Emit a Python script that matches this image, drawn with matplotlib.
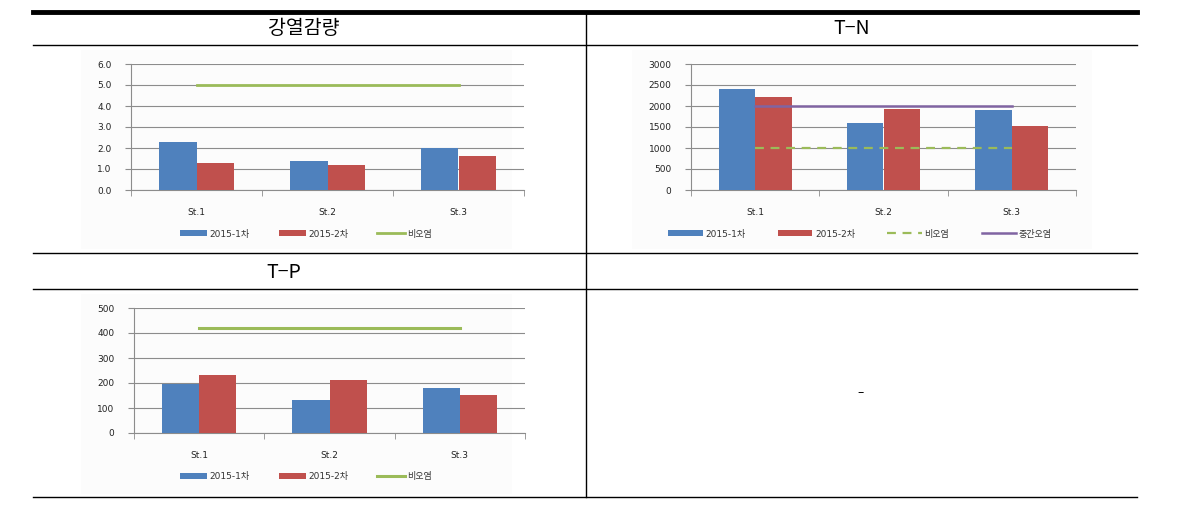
import matplotlib
matplotlib.use("Agg")
import matplotlib.pyplot as plt
from matplotlib.lines import Line2D
from matplotlib.patches import Rectangle
import numpy as np

plt.rcParams['font.family'] = ['DejaVu Sans', 'Noto Sans CJK KR']

W, H = 1197, 508

stations = ["St.1", "St.2", "St.3"]
series_names = ["2015-1차", "2015-2차"]

# 강열감량
loi_1 = [2.3, 1.4, 2.0]
loi_2 = [1.3, 1.2, 1.6]
loi_clean = 5.0

# T-N
tn_1 = [2415, 1605, 1900]
tn_2 = [2215, 1940, 1515]
tn_clean = 1000
tn_mid = 2000

# T-P
tp_1 = [197, 134, 182]
tp_2 = [234, 213, 154]
tp_clean = 420

BLUE = "#4F81BD"
RED = "#C0504D"
GREEN = "#9BBB59"
PURPLE = "#8064A2"
GRID = "#8c8c8c"
KR = ['Noto Sans CJK KR', 'DejaVu Sans']


def fx(x):
    return x / W


def fy(y):
    return 1 - y / H


def px_axes(left, top, right, bottom):
    return fig.add_axes([fx(left), fy(bottom), (right - left) / W, (bottom - top) / H])


def hline(y, x0, x1, lw=1.0):
    fig.add_artist(Line2D([fx(x0), fx(x1)], [fy(y), fy(y)], color="black", lw=lw))


def vline(x, y0, y1, lw=1.0):
    fig.add_artist(Line2D([fx(x), fx(x)], [fy(y0), fy(y1)], color="black", lw=lw))


def chart_bg(left, top, right, bottom):
    fig.add_artist(Rectangle((fx(left), fy(bottom)), (right - left) / W, (bottom - top) / H,
                             facecolor="#fcfcfc", edgecolor="none", zorder=0))


def bar_chart(ax, v1, v2, lines, ymax, step, fmt):
    x = np.arange(len(stations))
    w = 0.285
    ax.bar(x - w / 2, v1, w, color=BLUE, label=series_names[0], zorder=3)
    ax.bar(x + w / 2, v2, w, color=RED, label=series_names[1], zorder=3)
    for val, color, style, lw, name in lines:
        ax.plot([x[0], x[-1]], [val, val], color=color, ls=style, lw=lw, label=name, zorder=4)
    ax.set_xlim(-0.5, len(stations) - 0.5)
    ax.set_ylim(0, ymax)
    ticks = np.arange(0, ymax + step / 2, step)
    ax.set_yticks(ticks)
    ax.set_yticklabels([fmt.format(v) for v in ticks])
    ax.set_xticks(x)
    ax.set_xticklabels(stations)
    ax.set_xticks(np.arange(-0.5, len(stations)), minor=True)
    ax.tick_params(axis="x", which="major", length=0, pad=13, labelsize=6.5, labelcolor="#222222")
    ax.tick_params(axis="x", which="minor", length=4, color=GRID, direction="out")
    ax.tick_params(axis="y", length=4, color=GRID, direction="out", pad=10, labelsize=6.5,
                   labelcolor="#222222")
    ax.grid(axis="y", color=GRID, lw=0.8, zorder=0)
    ax.set_axisbelow(True)
    for s in ["top", "right"]:
        ax.spines[s].set_visible(False)
    for s in ["left", "bottom"]:
        ax.spines[s].set_color(GRID)
        ax.spines[s].set_linewidth(0.8)
    ax.set_facecolor("none")


def legend(ax, cx, cy, hl=3.0, cs=3.2):
    h, l = ax.get_legend_handles_labels()
    order = [l.index(n) for n in series_names] + [i for i, n in enumerate(l) if n not in series_names]
    fig.legend([h[i] for i in order], [l[i] for i in order], loc="center",
               bbox_to_anchor=(fx(cx), fy(cy)), ncol=len(h),
               frameon=False, fontsize=6.5, handlelength=hl, handleheight=0.6,
               handletextpad=0.3, columnspacing=cs, labelcolor="#333333")


fig = plt.figure(figsize=(W / 100, H / 100), dpi=100)

# table frame
hline(12, 33, 1137, lw=3.5)
hline(45, 33, 1137)
hline(253, 33, 1137)
hline(289, 33, 1137)
hline(497, 33, 1137)
vline(586, 12, 497)

fig.text(fx(304), fy(29), "강열감량", ha="center", va="center", fontsize=14, family=KR)
fig.text(fx(852), fy(29), "T\u2212N", ha="center", va="center", fontsize=14, family=KR)
fig.text(fx(284), fy(272), "T\u2212P", ha="center", va="center", fontsize=14, family=KR)
fig.text(fx(861), fy(393), "\u2013", ha="center", va="center", fontsize=9)

chart_bg(81, 50, 512, 249)
chart_bg(632, 50, 1092, 249)
chart_bg(81, 294, 512, 494)

ax1 = px_axes(131, 64, 524, 190)
bar_chart(ax1, loi_1, loi_2, [(loi_clean, GREEN, "-", 2.0, "비오염")], 6.0, 1.0, "{:.1f}")
legend(ax1, 306, 234)

ax2 = px_axes(691, 64, 1076, 190)
bar_chart(ax2, tn_1, tn_2,
          [(tn_clean, GREEN, (0, (4, 3)), 1.6, "비오염"),
           (tn_mid, PURPLE, "-", 1.8, "중간오염")],
          3000, 500, "{:.0f}")
legend(ax2, 860, 234, hl=3.8, cs=3.6)

ax3 = px_axes(134, 308, 525, 433)
bar_chart(ax3, tp_1, tp_2, [(tp_clean, GREEN, "-", 2.2, "비오염")], 500, 100, "{:.0f}")
legend(ax3, 306, 477)

fig.savefig("out.png", dpi=100)
